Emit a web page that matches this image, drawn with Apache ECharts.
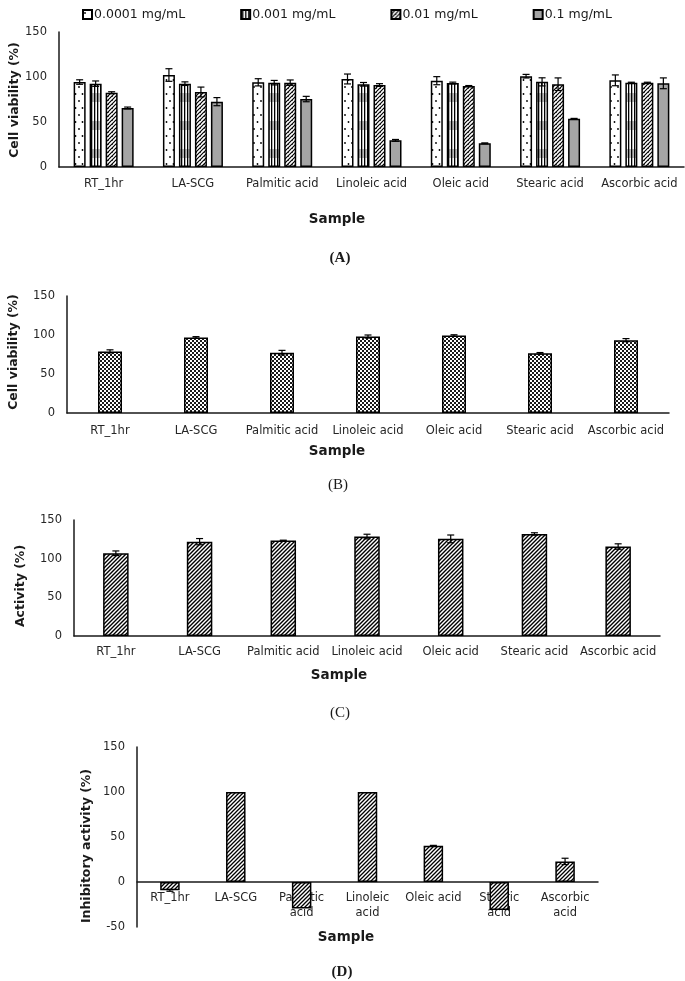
<!DOCTYPE html>
<html><head><meta charset="utf-8">
<script src="https://cdn.jsdelivr.net/npm/echarts@6/dist/echarts.min.js"></script>
<style>html,body{margin:0;padding:0;background:#fff}#c{width:685px;height:981px}</style>
</head><body><div id="c"></div>
<script>
// ---------- DATA ----------
const categories = ['RT_1hr','LA-SCG','Palmitic acid','Linoleic acid','Oleic acid','Stearic acid','Ascorbic acid'];
const categoriesD = ['RT_1hr','LA-SCG','Palmitic\nacid','Linoleic\nacid','Oleic acid','Stearic\nacid','Ascorbic\nacid'];
const legendNames = ['0.0001 mg/mL','0.001 mg/mL','0.01 mg/mL','0.1 mg/mL'];
const yTicks = [0, 50, 100, 150];
const yTicksD = [-50, 0, 50, 100, 150];

const a1 = [94.4, 102.2, 94.1, 97.8, 95.9, 100.9, 96.3];
const a1Err = [2.5, 7, 4, 5.5, 4.5, 2, 6];
const a2 = [92.6, 92.6, 93.7, 91.9, 93.3, 94.6, 93.7];
const a2Err = [3, 2, 2.5, 2, 1, 4.5, 0.5];
const a3 = [82.6, 83.3, 93.7, 91.1, 90.0, 92.0, 93.7];
const a3Err = [1, 5.5, 3, 1.5, 0.5, 7, 0.5];
const a4 = [65.6, 72.6, 75.5, 29.6, 26.3, 53.5, 93.0];
const a4Err = [1, 4.5, 3, 1, 0.5, 0.5, 6];

const bVals = [79.0, 96.9, 77.3, 98.0, 99.3, 76.5, 93.4];
const bErr = [2, 1, 3, 2, 1, 1, 2];
const cVals = [107.0, 122.0, 123.4, 128.6, 125.6, 132.0, 115.7];
const cErr = [3, 4, 0.5, 3, 5, 1.5, 3.5];
const dVals = [-9.3, 100.0, -29.5, 100.0, 40.2, -31.0, 22.9];
const dErr = [1, 0, 0, 0, 0.5, 0, 3.5];

// ---------- PATTERNS ----------
function cv(w, h, draw){ const c=document.createElement('canvas'); c.width=w; c.height=h; const g=c.getContext('2d'); g.fillStyle='#fff'; g.fillRect(0,0,w,h); draw(g,w,h); return {image:c, repeat:'repeat'}; }
function diag(g, s, lw){ g.strokeStyle='#000'; g.lineWidth=lw; g.beginPath();
  g.moveTo(0,s); g.lineTo(s,0); g.moveTo(-1,1); g.lineTo(1,-1); g.moveTo(s-1,s+1); g.lineTo(s+1,s-1); g.stroke(); }
const patDots = cv(7, 14, (g)=>{ g.fillStyle='#000'; g.beginPath(); g.arc(2,3,0.9,0,7); g.fill(); g.beginPath(); g.arc(5.5,10,0.9,0,7); g.fill(); });
const patStripes = cv(6, 28, (g)=>{ g.fillStyle='#bdbdbd'; g.fillRect(0,9,6,9); g.fillStyle='#000'; g.fillRect(1,0,1.3,28); g.fillRect(4,0,1.3,28); });
const patA3 = cv(4, 4, (g)=>{ diag(g,4,1.2); g.fillStyle='#444'; g.fillRect(0,0,1,1); });
const patGrey = '#a5a5a5';
const patB = cv(4, 4, (g)=>{ g.fillStyle='#1a1a1a'; g.fillRect(0,0,2,2); g.fillRect(2,2,2,2); });
const patC = cv(4, 4, (g)=>{ diag(g,4,1.4); });
const patD = cv(4, 4, (g)=>{ diag(g,4,1.3); });

// ---------- LAYOUT ----------
const FONT = 'DejaVu Sans';
const grids = [
  {left:59, top:32, width:625, height:135},
  {left:67, top:296, width:602, height:117},
  {left:74, top:520, width:586, height:116},
  {left:137, top:747, width:461, height:180}
];
const axisLine = {lineStyle:{color:'#1a1a1a', width:1.5}};
function xAx(i, cats, margin, offset){ return {type:'category', gridIndex:i, data:cats, offset:offset||0,
  axisLine:{...axisLine, onZero:false}, axisTick:{show:false},
  axisLabel:{color:'#262626', fontFamily:FONT, fontSize:11.5, margin:margin, interval:0, lineHeight:15}}; }
function yAx(i, min){ return {type:'value', gridIndex:i, min:min, max:150, interval:50, axisLine:{show:true, ...axisLine}, axisTick:{show:false}, splitLine:{show:false},
  axisLabel:{color:'#262626', fontFamily:FONT, fontSize:11.5, margin:12}}; }

const A_BW = 12, A_GAP = 4; // bar width and gap in px
function aOffset(k){ const total = 4*A_BW + 3*A_GAP; return -total/2 + A_BW/2 + k*(A_BW + A_GAP); }

function errSeries(ax, vals, errs, off, cap){
  return {type:'custom', xAxisIndex:ax, yAxisIndex:ax, z:5, silent:true,
    renderItem:function(params, api){
      const i = api.value(0), v = api.value(1), e = api.value(2);
      if(!e) return null;
      const p = api.coord([i, v]), hi = api.coord([i, v+e]), lo = api.coord([i, v-e]);
      const x = p[0] + off;
      const st = {stroke:'#000', lineWidth:1.2};
      return {type:'group', children:[
        {type:'line', shape:{x1:x, y1:hi[1], x2:x, y2:lo[1]}, style:st},
        {type:'line', shape:{x1:x-cap, y1:hi[1], x2:x+cap, y2:hi[1]}, style:st},
        {type:'line', shape:{x1:x-cap, y1:lo[1], x2:x+cap, y2:lo[1]}, style:st}
      ]};
    },
    data: vals.map((v,i)=>[i, v, errs[i]])
  };
}
const barBorder = {borderColor:'#000', borderWidth:1.5};
const aVals = [a1,a2,a3,a4], aErrs = [a1Err,a2Err,a3Err,a4Err], aPats = [patDots, patStripes, patA3, patGrey];

const series = [];
aVals.forEach((vals,k)=>{
  series.push({type:'bar', name:legendNames[k], xAxisIndex:0, yAxisIndex:0, data:vals, barWidth:A_BW, barGap:(A_GAP/A_BW*100)+'%',
    itemStyle:{color:aPats[k], ...barBorder}});
});
aVals.forEach((vals,k)=>{ series.push(errSeries(0, vals, aErrs[k], aOffset(k), 3.5)); });
series.push({type:'bar', xAxisIndex:1, yAxisIndex:1, data:bVals, barWidth:24, itemStyle:{color:patB, ...barBorder}});
series.push(errSeries(1, bVals, bErr, 0, 3.5));
series.push({type:'bar', xAxisIndex:2, yAxisIndex:2, data:cVals, barWidth:25.5, itemStyle:{color:patC, ...barBorder}});
series.push(errSeries(2, cVals, cErr, 0, 3.5));
series.push({type:'bar', xAxisIndex:3, yAxisIndex:3, data:dVals, barWidth:19.5, itemStyle:{color:patD, ...barBorder}});
series.push(errSeries(3, dVals, dErr, 0, 3.5));

function txt(x, y, text, font, rot){ return {type:'text', x:x, y:y, rotation:rot||0, z:10,
  style:{text:text, font:font, fill:'#1a1a1a', textAlign:'center', textVerticalAlign:'middle'}}; }
const titleFont = 'bold 13.5px "DejaVu Sans"';
const yTitleFont = 'bold 12.5px "DejaVu Sans"';
const graphic = [
  txt(15, 100, 'Cell viability (%)', yTitleFont, Math.PI/2),
  txt(337, 219, 'Sample', titleFont),
  txt(340, 258, '(A)', 'bold 15px "Liberation Serif"'),
  txt(14, 352, 'Cell viability (%)', yTitleFont, Math.PI/2),
  txt(337, 451, 'Sample', titleFont),
  txt(338, 485, '(B)', '15px "Liberation Serif"'),
  txt(21, 586, 'Activity (%)', yTitleFont, Math.PI/2),
  txt(339, 675, 'Sample', titleFont),
  txt(340, 713, '(C)', '15px "Liberation Serif"'),
  txt(87, 846, 'Inhibitory activity (%)', yTitleFont, Math.PI/2),
  txt(346, 937, 'Sample', titleFont),
  txt(342, 972, '(D)', 'bold 15px "Liberation Serif"')
];

const chart = echarts.init(document.getElementById('c'), null, {renderer:'canvas'});
chart.setOption({
  animation:false,
  backgroundColor:'#fff',
  grid: grids,
  legend:{data:legendNames, left:77, top:3, itemWidth:9, itemHeight:9, itemGap:55, icon:'rect',
    textStyle:{fontFamily:FONT, fontSize:12.5, color:'#1a1a1a', padding:[0,0,0,-3]}},
  xAxis:[xAx(0,categories,10), xAx(1,categories,11), xAx(2,categories,9), xAx(3,categoriesD,9,-45)],
  yAxis:[yAx(0,0), yAx(1,0), yAx(2,0), yAx(3,-50)],
  series: series,
  graphic: graphic
});
</script></body></html>
